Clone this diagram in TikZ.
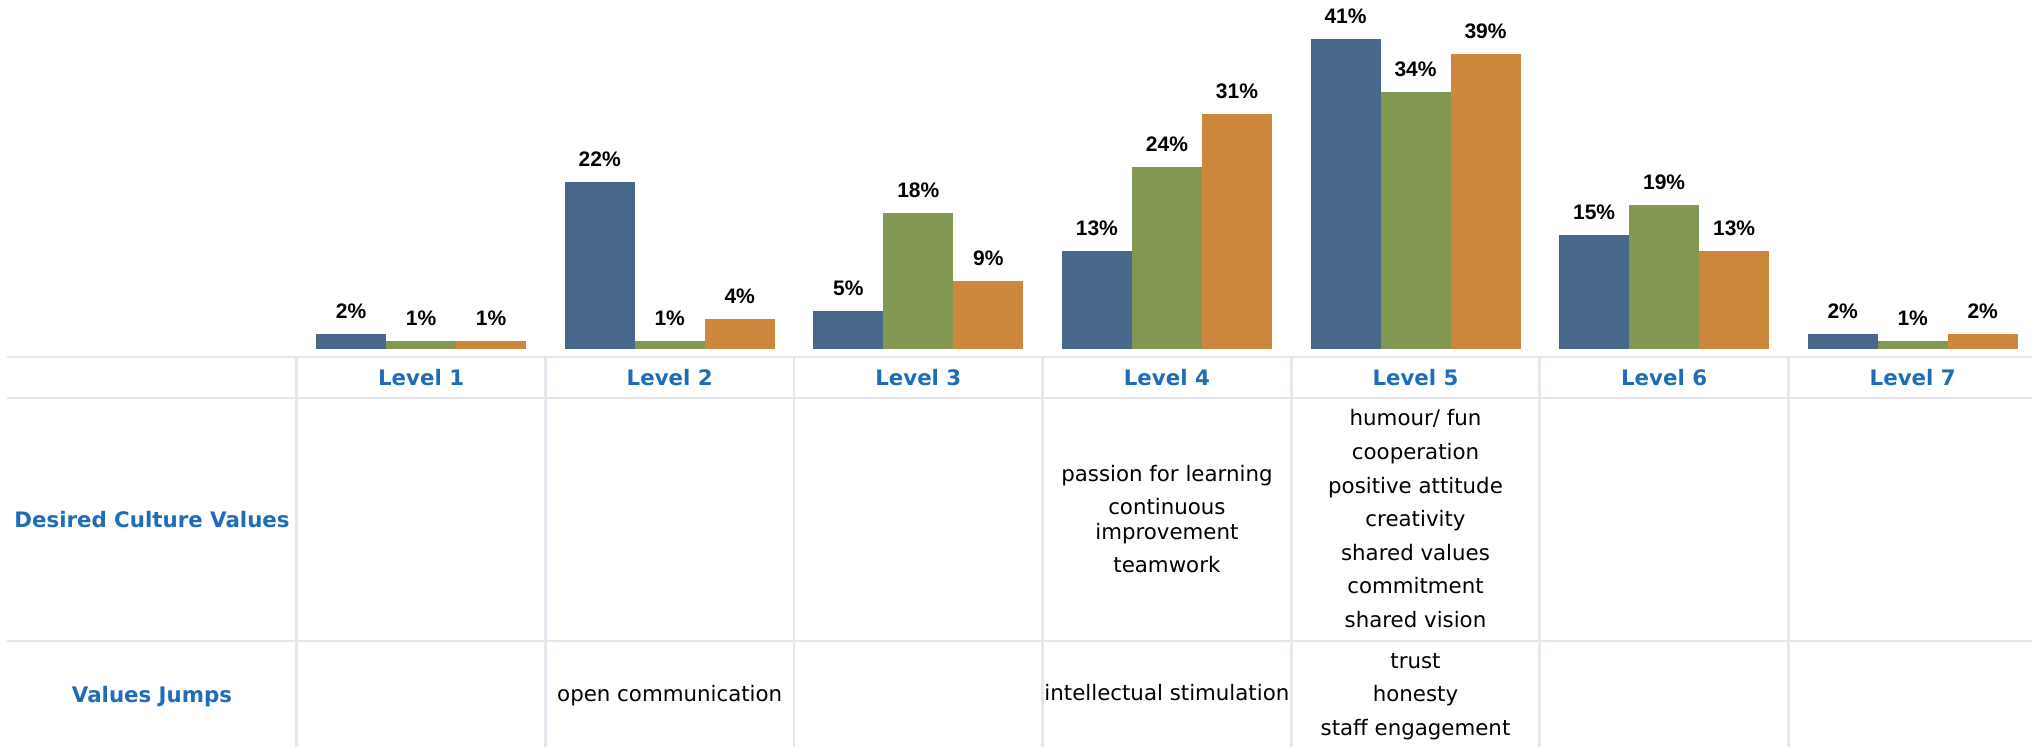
\documentclass[tikz,border=0pt]{standalone}
\usepackage{fontspec}
\setmainfont{DejaVu Sans}
\newfontfamily\valfont{Liberation Sans}
\definecolor{cblue}{HTML}{48698C}
\definecolor{cgreen}{HTML}{829852}
\definecolor{corange}{HTML}{CD883D}
\definecolor{lblue}{HTML}{1F6DB8}
\definecolor{gridc}{HTML}{E6E6EE}
\tikzset{
  gridline/.style={draw=gridc, line width=2.8pt},
  vlab/.style={font=\valfont\bfseries\fontsize{21}{25}\selectfont, anchor=base, inner sep=0pt},
  lvl/.style={font=\bfseries\fontsize{21.33}{26}\selectfont, text=lblue, inner sep=0pt, text height=15.5pt, text depth=0pt},
  body/.style={font=\fontsize{21.33}{26}\selectfont, inner sep=0pt, text height=11.6pt, text depth=0pt},
}
\begin{document}
\begin{tikzpicture}[x=1pt,y=-1pt]
\useasboundingbox[fill=white] (0,0) rectangle (2032,747);
% table grid
\foreach \yy in {357,398,641} \draw[gridline] (7,\yy) -- (2032,\yy);
\foreach \k in {0,...,6} \draw[gridline] ({296.8+248.6*\k},357) -- ({296.8+248.6*\k},747);
% bars and value labels
\def\ppc{7.57}
\foreach \k/\a/\b/\c in {1/2/1/1, 2/22/1/4, 3/5/18/9, 4/13/24/31, 5/41/34/39, 6/15/19/13, 7/2/1/2} {
  \pgfmathsetmacro\cx{296.8+248.6*(\k-0.5)}
  \fill[cblue] (\cx-105,349) rectangle (\cx-35,349-\a*\ppc);
  \fill[cgreen] (\cx-35,349) rectangle (\cx+35,349-\b*\ppc);
  \fill[corange] (\cx+35,349) rectangle (\cx+105,349-\c*\ppc);
  \node[vlab] (va\k) at (\cx-70,349-\a*\ppc-15.5) {\a\%};
  \node[vlab] (vb\k) at (\cx,349-\b*\ppc-15.5) {\b\%};
  \node[vlab] (vc\k) at (\cx+70,349-\c*\ppc-15.5) {\c\%};
  \node[lvl] (lev\k) at (\cx,377.5) {Level \k};
}
% row labels
\node[lvl] (rdcv) at (152,520) {Desired Culture Values};
\node[lvl] (rvj) at (152,694.5) {Values Jumps};
% Level 4 desired values
\node[body] (d4a) at (1166.9,475.7) {passion for learning};
\node[body] (d4b) at (1166.9,508.3) {continuous};
\node[body] (d4c) at (1166.9,534) {improvement};
\node[body] (d4d) at (1166.9,566.7) {teamwork};
% Level 5 desired values
\foreach \t [count=\i from 0] in {humour/ fun, cooperation, positive attitude, creativity, shared values, commitment, shared vision}
  \node[body] (d5-\i) at (1415.5,420+33.6*\i) {\t};
% values jumps
\node[body] (j2) at (669.7,695.5) {open communication};
\node[body] (j4) at (1166.9,695) {intellectual stimulation};
\foreach \t [count=\i from 0] in {trust, honesty, staff engagement}
  \node[body] (j5-\i) at (1415.5,662.4+33.6*\i) {\t};
\end{tikzpicture}
\end{document}
